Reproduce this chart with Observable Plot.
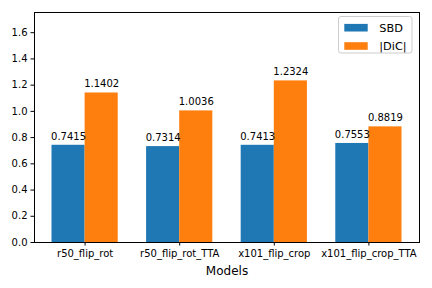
<!DOCTYPE html>
<html>
<head>
<meta charset="utf-8">
<script src="https://cdn.jsdelivr.net/npm/d3@7"></script>
<script src="https://cdn.jsdelivr.net/npm/@observablehq/plot@0.6"></script>
<style>
  html, body { margin: 0; padding: 0; background: #fff; }
  svg { font-family: "DejaVu Sans", sans-serif; }
</style>
</head>
<body>
<div id="chart"></div>
<script>
const models = ["r50_flip_rot", "r50_flip_rot_TTA", "x101_flip_crop", "x101_flip_crop_TTA"];
const sbd = [0.7415, 0.7314, 0.7413, 0.7553];
const dic = [1.1402, 1.0036, 1.2324, 0.8819];
const seriesNames = ["SBD", "|DiC|"];
const seriesColors = ["#1f77b4", "#ff7f0e"];
const yTicks = [0, 0.2, 0.4, 0.6, 0.8, 1.0, 1.2, 1.4, 1.6];

const barWidth = 0.35;
const rows = [];
models.forEach((m, i) => {
  rows.push({model: m, i, series: seriesNames[0], value: sbd[i], x1: i - barWidth, x2: i});
  rows.push({model: m, i, series: seriesNames[1], value: dic[i], x1: i, x2: i + barWidth});
});

const chart = Plot.plot({
  width: 432,
  height: 288,
  marginLeft: 34,
  marginRight: 13,
  marginTop: 12,
  marginBottom: 46,
  style: {fontFamily: "DejaVu Sans, sans-serif", fontSize: "10px", color: "#000", background: "#fff"},
  x: {domain: [-0.535, 3.535], label: null},
  y: {domain: [0, 1.754], label: null},
  color: {domain: seriesNames, range: seriesColors},
  marks: [
    Plot.rect(rows, {x1: "x1", x2: "x2", y1: 0, y2: "value", fill: "series"}),
    Plot.text(rows, {x: d => (d.x1 + d.x2) / 2, y: "value", text: d => d.value.toFixed(4), lineAnchor: "bottom", dy: -5.5, fontSize: 10, fill: "#000"}),
    Plot.axisX({ticks: models.map((_, i) => i), tickFormat: i => models[i], tickSize: 3.5, tickPadding: 3.5, fontSize: 10, label: null}),
    Plot.axisY({ticks: yTicks, tickFormat: ".1f", tickSize: 3.5, tickPadding: 3.5, fontSize: 10, label: null}),
    Plot.text(["Models"], {frameAnchor: "bottom", dy: 32, fontSize: 12, lineAnchor: "bottom", fill: "#000"}),
    Plot.frame({stroke: "#000", strokeWidth: 1})
  ]
});

document.getElementById("chart").appendChild(chart);

// Legend inside the axes (upper right), matplotlib style
const svg = d3.select(chart);
const lg = svg.append("g").attr("class", "legend").attr("transform", "translate(338.5,16.5)");
lg.append("rect").attr("width", 73.5).attr("height", 36.5).attr("rx", 2.5)
  .attr("fill", "#fff").attr("fill-opacity", 0.8).attr("stroke", "#cccccc").attr("stroke-width", 1);
seriesNames.forEach((name, k) => {
  const cy = 11.2 + k * 18.3;
  lg.append("rect").attr("x", 5.8).attr("y", cy - 3.8).attr("width", 23.4).attr("height", 7.6).attr("fill", seriesColors[k]);
  lg.append("text").attr("x", 40.8).attr("y", cy).attr("dy", "0.36em").attr("text-anchor", "start")
    .attr("font-size", 11.3).attr("fill", "#000").text(name);
});
</script>
</body>
</html>
